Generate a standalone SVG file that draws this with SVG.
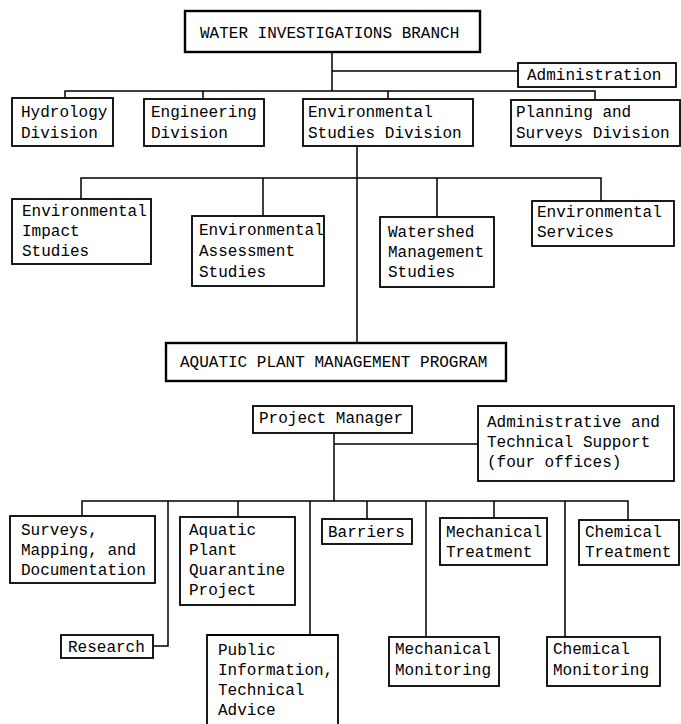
<svg xmlns="http://www.w3.org/2000/svg" width="681" height="724" viewBox="0 0 681 724">
<style>
.box{fill:#fff;stroke:#000;stroke-width:1.8}
.thick{stroke-width:2.4}
.t{font-family:"Liberation Mono","DejaVu Sans Mono",monospace;font-size:16px;fill:#000}
.c{fill:none;stroke:#000;stroke-width:1.5}
</style>
<rect width="681" height="724" fill="#fff"/>
<g id="connectors">
<path class="c" d="M332,52V91M332,71H518M65,98V91H595V100M203,91V99M388,91V99"/>
<path class="c" d="M357,146V343M81,199V178H601V201M263,178V216M437,178V217"/>
<path class="c" d="M334,433V501M334,444H478M82,516V501H628V520M168,501V646H153M238,501V517M310,501V635M367,501V519M426,501V637M494,501V518M565,501V637"/>
</g>
<g id="water-investigations-branch"><rect class="box thick" x="185" y="11" width="295" height="41"/><text class="t" x="200" y="38">WATER INVESTIGATIONS BRANCH</text></g>
<g id="administration"><rect class="box" x="518" y="63" width="158" height="24"/><text class="t" x="527" y="80">Administration</text></g>
<g id="hydrology"><rect class="box" x="12" y="98" width="101" height="48"/><text class="t" x="21" y="117">Hydrology</text><text class="t" x="21" y="138">Division</text></g>
<g id="engineering"><rect class="box" x="144" y="99" width="120" height="47"/><text class="t" x="151" y="117">Engineering</text><text class="t" x="151" y="138">Division</text></g>
<g id="env-studies"><rect class="box" x="303" y="99" width="170" height="47"/><text class="t" x="308" y="117">Environmental</text><text class="t" x="308" y="138">Studies Division</text></g>
<g id="planning"><rect class="box" x="511" y="100" width="169" height="46"/><text class="t" x="516" y="117">Planning and</text><text class="t" x="516" y="138">Surveys Division</text></g>
<g id="env-impact"><rect class="box" x="12" y="199" width="139" height="65"/><text class="t" x="22" y="216">Environmental</text><text class="t" x="22" y="236">Impact</text><text class="t" x="22" y="256">Studies</text></g>
<g id="env-assessment"><rect class="box" x="192" y="216" width="132" height="70"/><text class="t" x="199" y="235">Environmental</text><text class="t" x="199" y="256">Assessment</text><text class="t" x="199" y="277">Studies</text></g>
<g id="watershed"><rect class="box" x="380" y="217" width="114" height="70"/><text class="t" x="388" y="237">Watershed</text><text class="t" x="388" y="257">Management</text><text class="t" x="388" y="277">Studies</text></g>
<g id="env-services"><rect class="box" x="532" y="201" width="142" height="45"/><text class="t" x="537" y="217">Environmental</text><text class="t" x="537" y="237">Services</text></g>
<g id="aquatic-program"><rect class="box thick" x="166" y="343" width="340" height="38"/><text class="t" x="180" y="367">AQUATIC PLANT MANAGEMENT PROGRAM</text></g>
<g id="project-manager"><rect class="box" x="253" y="406" width="159" height="27"/><text class="t" x="259" y="423">Project Manager</text></g>
<g id="admin-tech"><rect class="box" x="478" y="406" width="196" height="75"/><text class="t" x="487" y="427">Administrative and</text><text class="t" x="487" y="447">Technical Support</text><text class="t" x="487" y="467">(four offices)</text></g>
<g id="surveys"><rect class="box" x="10" y="516" width="145" height="67"/><text class="t" x="21" y="535">Surveys,</text><text class="t" x="21" y="555">Mapping, and</text><text class="t" x="21" y="575">Documentation</text></g>
<g id="quarantine"><rect class="box" x="180" y="517" width="115" height="88"/><text class="t" x="189" y="535">Aquatic</text><text class="t" x="189" y="555">Plant</text><text class="t" x="189" y="575">Quarantine</text><text class="t" x="189" y="595">Project</text></g>
<g id="barriers"><rect class="box" x="322" y="519" width="90" height="25"/><text class="t" x="328" y="537">Barriers</text></g>
<g id="mech-treatment"><rect class="box" x="440" y="518" width="107" height="47"/><text class="t" x="446" y="537">Mechanical</text><text class="t" x="446" y="557">Treatment</text></g>
<g id="chem-treatment"><rect class="box" x="579" y="520" width="100" height="45"/><text class="t" x="585" y="537">Chemical</text><text class="t" x="585" y="557">Treatment</text></g>
<g id="research"><rect class="box" x="61" y="635" width="92" height="23"/><text class="t" x="68" y="652">Research</text></g>
<g id="public-info"><path class="box" d="M207,726V635H338V726"/><text class="t" x="218" y="655">Public</text><text class="t" x="218" y="675">Information,</text><text class="t" x="218" y="695">Technical</text><text class="t" x="218" y="715">Advice</text></g>
<g id="mech-monitoring"><rect class="box" x="389" y="637" width="110" height="49"/><text class="t" x="395" y="654">Mechanical</text><text class="t" x="395" y="675">Monitoring</text></g>
<g id="chem-monitoring"><rect class="box" x="547" y="637" width="113" height="49"/><text class="t" x="553" y="654">Chemical</text><text class="t" x="553" y="675">Monitoring</text></g>
</svg>
